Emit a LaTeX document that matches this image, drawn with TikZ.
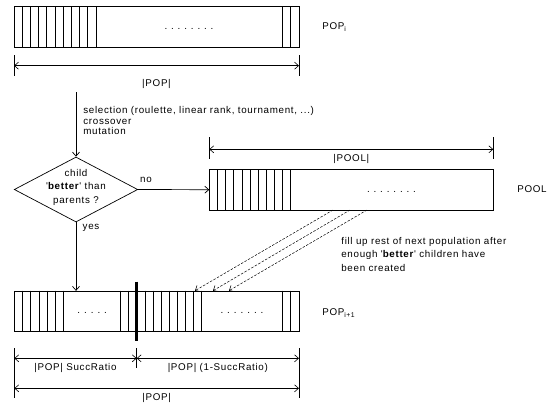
\documentclass[tikz,border=0pt]{standalone}
\usepackage{fontspec}
\setmainfont[LetterSpace=7]{Liberation Sans}
\usetikzlibrary{shapes.geometric,arrows.meta}
\newcommand{\gapdots}[2]{\foreach \d in {1,...,#1}{\makebox[#2]{.}}}

\begin{document}
\begin{tikzpicture}[x=1pt,y=-1pt,line width=0.7pt,
  >={Straight Barb[length=4pt,width=7pt]},
  bar/.style={shape=rectangle,draw=black,inner sep=0pt,outer sep=0pt,minimum height=40.7pt},
  txt/.style={font=\fontsize{9.8}{10.5}\selectfont,inner sep=0pt},
  dim/.style={<->,line width=0.6pt}]
 \useasboundingbox (0,0) rectangle (560,408);
 % population i
 \node (pop i) at (156.5,27) [bar,minimum width=285pt] {};
 \foreach \x in {1,...,10} \draw ({14+8.2*\x},6.7) -- ++(0,40.7);
 \foreach \x in {282.3,290.7} \draw (\x,6.7) -- ++(0,40.7);
 \node (dots i) at (189,29) [txt] {\gapdots{8}{6.6pt}};
 \node (name i) at (322,27) [txt,anchor=west] {POP\textsubscript{i}};
 \draw (14,55) -- (14,76);
 \draw (299,55) -- (299,76);
 \coordinate (pop l) at (14,65.7);
 \coordinate (pop r) at (299,65.7);
 \draw[dim] (pop l) -- (pop r);
 \node (len i) at (156.5,84) [txt] {|POP|};
 % generation of a child
 \coordinate (sel top) at (76,92);
 \node (ops) at (83,120.5) [txt,anchor=west,align=left] {selection (roulette, linear rank, tournament, ...)\\ crossover\\ mutation};
 \node (test) at (76,189.5) [shape=diamond,draw=black,inner sep=0pt,minimum width=123.5pt,minimum height=65pt] {};
 \node (test txt) at (76,187.3) [txt,align=center,font=\fontsize{9.8}{13.3}\selectfont] {child\\ \textquotesingle\textbf{better}\textquotesingle\ than\\ parents ?};
 \draw[->] (sel top) -- (test.north);
 % pool
 \node (pool) at (351.3,189.7) [bar,minimum width=284pt] {};
 \foreach \x in {1,...,10} \draw ({209.3+8.14*\x},169.3) -- ++(0,40.7);
 \node (dots pool) at (391.5,192) [txt] {\gapdots{8}{6.6pt}};
 \node (name pool) at (517,189) [txt,anchor=west] {POOL};
 \draw (209.3,137) -- (209.3,159);
 \draw (493.3,137) -- (493.3,159);
 \coordinate (pool l) at (209.3,149.3);
 \coordinate (pool r) at (493.3,149.3);
 \draw[dim] (pool l) -- (pool r);
 \node (len pool) at (351.3,159) [txt] {|POOL|};
 \draw[->] (test.east) -- (pool.west);
 \node (no) at (146,180) [txt] {no};
 % population i+1
 \node (pop next) at (156.7,311.2) [bar,minimum width=284.7pt] {};
 \foreach \x in {1,...,6} \draw ({14.3+8.2*\x},290.7) -- ++(0,41);
 \foreach \x in {0,1,3,4,...,10} \draw ({120.5+8.12*\x},290.7) -- ++(0,41);
 \foreach \x in {282.3,290.7} \draw (\x,290.7) -- ++(0,41);
 \draw[line width=2.6pt] (136.7,281.7) -- (136.7,341);
 \node (dots a) at (92.2,313) [txt] {\gapdots{5}{6.7pt}};
 \node (dots b) at (242,313) [txt] {\gapdots{7}{6.7pt}};
 \node (name next) at (322,313) [txt,anchor=west] {POP\textsubscript{i+1}};
 \draw[->] (test.south) -- (test.south |- pop next.north);
 \node (yes) at (91,228) [txt] {yes};
 % filling up from the pool
 \coordinate (src 1) at (333,210);
 \coordinate (src 2) at (350,210);
 \coordinate (src 3) at (367,210);
 \coordinate (dst 1) at (195,290.7);
 \coordinate (dst 2) at (213,290.7);
 \coordinate (dst 3) at (229,290.7);
 \draw[->,dashed,line width=0.5pt,dash pattern=on 2.5pt off 1.5pt] (src 1) -- (dst 1);
 \draw[->,dashed,line width=0.5pt,dash pattern=on 2.5pt off 1.5pt] (src 2) -- (dst 2);
 \draw[->,dashed,line width=0.5pt,dash pattern=on 2.5pt off 1.5pt] (src 3) -- (dst 3);
 \node (fill) at (341,254) [txt,anchor=west,align=left,font=\fontsize{9.8}{13.5}\selectfont] {fill up rest of next population after\\ enough \textquotesingle\textbf{better}\textquotesingle\ children have\\ been created};
 % sizes
 \draw (14.3,348) -- (14.3,398);
 \draw (136.7,348) -- (136.7,368);
 \draw (299,348) -- (299,398);
 \coordinate (succ l) at (14.3,358.3);
 \coordinate (succ m) at (136.7,358.3);
 \coordinate (succ r) at (299,358.3);
 \draw[dim] (succ l) -- (succ m);
 \draw[dim] (succ m) -- (succ r);
 \node (len succ) at (75.5,368.3) [txt] {|POP| SuccRatio};
 \node (len rest) at (217.8,368.3) [txt] {|POP| (1-SuccRatio)};
 \coordinate (all l) at (14.3,388.3);
 \coordinate (all r) at (299,388.3);
 \draw[dim] (all l) -- (all r);
 \node (len all) at (156.7,398) [txt] {|POP|};
\end{tikzpicture}
\end{document}
